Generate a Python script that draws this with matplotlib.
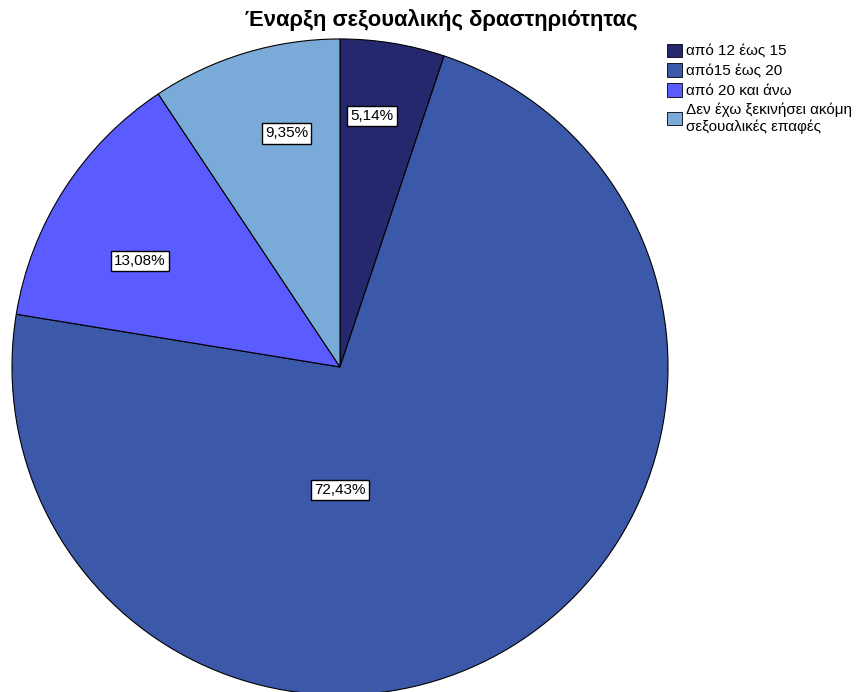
import numpy as np
import matplotlib.pyplot as plt
from matplotlib.patches import Patch

plt.rcParams['font.family'] = ['Liberation Sans', 'DejaVu Sans']

categories = ['από 12 έως 15', 'από15 έως 20', 'από 20 και άνω',
              'Δεν έχω ξεκινήσει ακόμη\nσεξουαλικές επαφές']
shares = [5.14, 72.43, 13.08, 9.35]
colors = ['#26286e', '#3c58a8', '#5a5cff', '#7aaad8']
# label placement per wedge: (angle offset in deg, radius fraction)
label_place = [(2.0, 0.77), (-31.0, 0.375), (5.0, 0.69), (-4.0, 0.73)]

fig = plt.figure(figsize=(8.59, 6.92), dpi=100)
ax = fig.add_axes([0.01397, -0.0043, 0.7637, 0.948])

wedges, _ = ax.pie(shares, colors=colors, startangle=90, counterclock=False,
                   radius=1.0, wedgeprops=dict(edgecolor='black', linewidth=0.8))
ax.set_xlim(-1, 1)
ax.set_ylim(-1, 1)
ax.set_aspect('equal')
ax.axis('off')

for w, val, (dang, rf) in zip(wedges, shares, label_place):
    mid = np.deg2rad((w.theta1 + w.theta2) / 2 + dang)
    ax.text(rf * np.cos(mid), rf * np.sin(mid), f'{val:.2f}%'.replace('.', ','),
            ha='center', va='center', fontsize=11,
            bbox=dict(boxstyle='square,pad=0.2', fc='white', ec='black', lw=1.0))

fig.text(0.514, 0.971, 'Έναρξη σεξουαλικής δραστηριότητας', ha='center', va='center',
         fontsize=15.8, fontweight='bold')

handles = [Patch(facecolor=c, edgecolor='black', linewidth=0.6) for c in colors]
fig.legend(handles, categories, loc='upper left', bbox_to_anchor=(0.776, 0.937),
           frameon=False, fontsize=11, handlelength=1.0, handleheight=1.0,
           handletextpad=0.3, labelspacing=0.3, borderaxespad=0, borderpad=0)

fig.savefig('out.png', dpi=100)
